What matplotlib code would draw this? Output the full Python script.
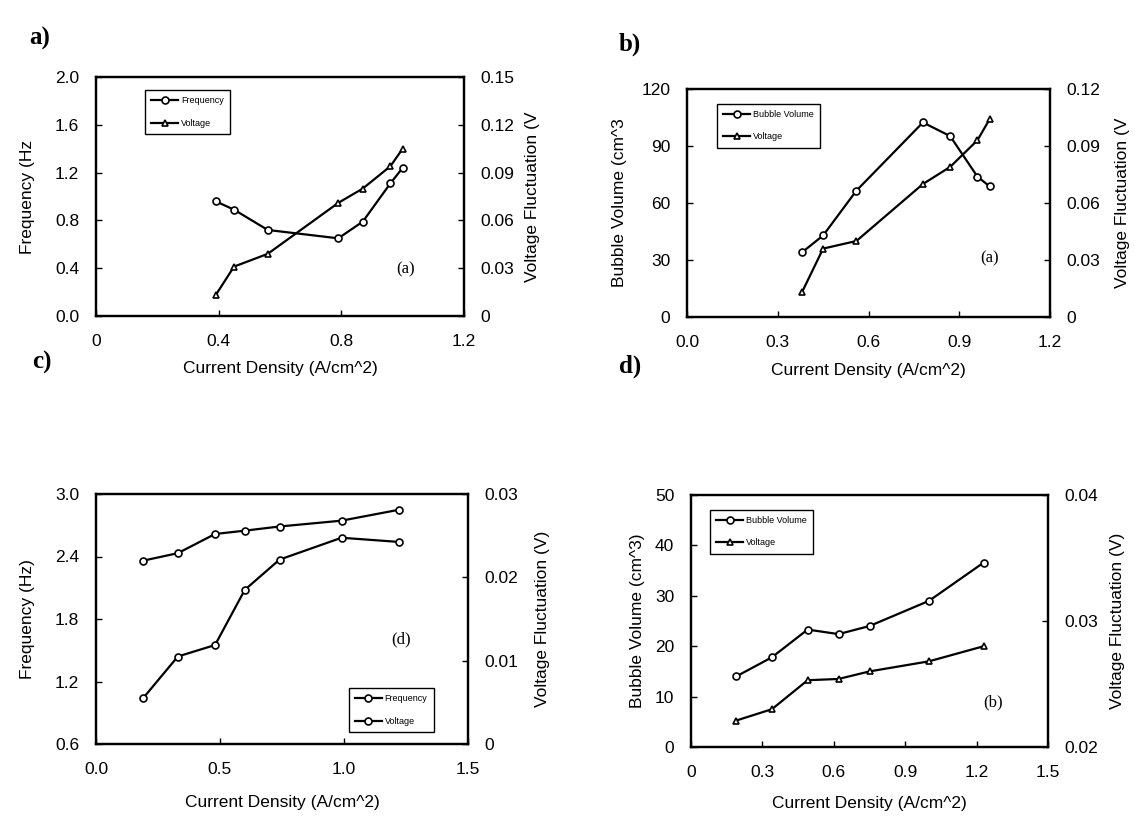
import matplotlib
matplotlib.use('Agg')
import matplotlib.pyplot as plt

plt.rcParams['font.family'] = 'Liberation Sans'

# panel a) frequency / voltage vs current density
cd_a = [0.39, 0.45, 0.56, 0.79, 0.87, 0.96, 1.00]
freq_a = [0.96, 0.89, 0.72, 0.65, 0.79, 1.11, 1.24]
volt_a = [0.013, 0.031, 0.039, 0.071, 0.080, 0.094, 0.105]

# panel b) bubble volume / voltage
cd_b = [0.38, 0.45, 0.56, 0.78, 0.87, 0.96, 1.00]
bub_b = [34.0, 42.9, 66.5, 102.4, 95.2, 73.9, 68.8]
volt_b = [0.013, 0.036, 0.040, 0.070, 0.079, 0.093, 0.104]

# panel c)
cd_c = [0.19, 0.33, 0.48, 0.60, 0.74, 0.99, 1.22]
freq_c = [1.04, 1.44, 1.55, 2.08, 2.37, 2.58, 2.54]
volt_c = [0.0220, 0.0229, 0.0252, 0.0256, 0.0261, 0.0268, 0.0281]

# panel d)
cd_d = [0.19, 0.34, 0.49, 0.62, 0.75, 1.00, 1.23]
bub_d = [14.0, 17.8, 23.3, 22.4, 24.0, 29.0, 36.6]
volt_d = [0.0221, 0.0230, 0.0253, 0.0254, 0.0260, 0.0268, 0.0280]

W, H = 1135, 817
fig = plt.figure(figsize=(W / 100, H / 100), dpi=100)


def make_axes(box):
    x0, y0, x1, y1 = box
    ax = fig.add_axes([x0 / W, (H - y1) / H, (x1 - x0) / W, (y1 - y0) / H])
    ax2 = ax.twinx()
    for a in (ax, ax2):
        for s in a.spines.values():
            s.set_linewidth(1.6)
        a.tick_params(direction='in', length=4, width=1, labelsize=12.5)
    ax.tick_params(axis='x', pad=13)
    ax.tick_params(axis='y', pad=12)
    ax2.tick_params(axis='y', pad=12)
    return ax, ax2


line_kw = dict(color='black', lw=1.6, ms=5, mfc='white', mec='black', mew=1.2)
leg_kw = dict(fontsize=6.5, frameon=True, fancybox=False, edgecolor='black',
              handlelength=3, borderpad=0.7, labelspacing=1.5, framealpha=1,
              handletextpad=0.3)

# ---- a)
ax, ax2 = make_axes((96, 77, 464, 316))
l1, = ax.plot(cd_a, freq_a, marker='o', label='Frequency', **line_kw)
l2, = ax2.plot(cd_a, volt_a, marker='^', label='Voltage', **line_kw)
ax.set_xlim(0, 1.2)
ax.set_xticks([0, 0.4, 0.8, 1.2], ['0', '0.4', '0.8', '1.2'])
ax.set_ylim(0, 2.0)
ax.set_yticks([0, 0.4, 0.8, 1.2, 1.6, 2.0], ['0.0', '0.4', '0.8', '1.2', '1.6', '2.0'])
ax2.set_ylim(0, 0.15)
ax2.set_yticks([0, 0.03, 0.06, 0.09, 0.12, 0.15], ['0', '0.03', '0.06', '0.09', '0.12', '0.15'])
ax.set_xlabel('Current Density (A/cm^2)', fontsize=12.5)
ax.set_ylabel('Frequency (Hz', fontsize=12.5)
ax2.set_ylabel('Voltage Fluctuation (V', fontsize=12.5)
ax.xaxis.set_label_coords(0.5, -0.19)
ax.yaxis.set_label_coords(-0.165, 0.5)
ax2.yaxis.set_label_coords(1.165, 0.5)
ax.legend([l1, l2], ['Frequency', 'Voltage'], loc='upper left',
          bbox_to_anchor=(0.12, 0.965), **leg_kw)
ax.text(1.01, 0.39, '(a)', fontsize=12, family='Liberation Serif', ha='center', va='center')
fig.text(40 / W, 1 - 38 / H, 'a)', fontsize=18, fontweight='bold',
         family='Liberation Serif', ha='center', va='center')

# ---- b)
ax, ax2 = make_axes((687, 89, 1050, 317))
l1, = ax.plot(cd_b, bub_b, marker='o', label='Bubble Volume', **line_kw)
l2, = ax2.plot(cd_b, volt_b, marker='^', label='Voltage', **line_kw)
ax.set_xlim(0, 1.2)
ax.set_xticks([0, 0.3, 0.6, 0.9, 1.2], ['0.0', '0.3', '0.6', '0.9', '1.2'])
ax.set_ylim(0, 120)
ax.set_yticks([0, 30, 60, 90, 120])
ax2.set_ylim(0, 0.12)
ax2.set_yticks([0, 0.03, 0.06, 0.09, 0.12], ['0', '0.03', '0.06', '0.09', '0.12'])
ax.set_xlabel('Current Density (A/cm^2)', fontsize=12.5)
ax.set_ylabel('Bubble Volume (cm^3', fontsize=12.5)
ax2.set_ylabel('Voltage Fluctuation (V', fontsize=12.5)
ax.xaxis.set_label_coords(0.5, -0.2)
ax.yaxis.set_label_coords(-0.165, 0.5)
ax2.yaxis.set_label_coords(1.18, 0.5)
ax.legend([l1, l2], ['Bubble Volume', 'Voltage'], loc='upper left',
          bbox_to_anchor=(0.07, 0.956), **leg_kw)
ax.text(1.0, 31, '(a)', fontsize=12, family='Liberation Serif', ha='center', va='center')
fig.text(630 / W, 1 - 44 / H, 'b)', fontsize=18, fontweight='bold',
         family='Liberation Serif', ha='center', va='center')

# ---- c)
ax, ax2 = make_axes((96, 494, 468, 744))
l1, = ax.plot(cd_c, freq_c, marker='o', label='Frequency', **line_kw)
l2, = ax2.plot(cd_c, volt_c, marker='o', label='Voltage', **line_kw)
ax.set_xlim(0, 1.5)
ax.set_xticks([0, 0.5, 1.0, 1.5], ['0.0', '0.5', '1.0', '1.5'])
ax.set_ylim(0.6, 3.0)
ax.set_yticks([0.6, 1.2, 1.8, 2.4, 3.0], ['0.6', '1.2', '1.8', '2.4', '3.0'])
ax2.set_ylim(0, 0.03)
ax2.set_yticks([0, 0.01, 0.02, 0.03], ['0', '0.01', '0.02', '0.03'])
ax.set_xlabel('Current Density (A/cm^2)', fontsize=12.5)
ax.set_ylabel('Frequency (Hz)', fontsize=12.5)
ax2.set_ylabel('Voltage Fluctuation (V)', fontsize=12.5)
ax.xaxis.set_label_coords(0.5, -0.205)
ax.yaxis.set_label_coords(-0.165, 0.5)
ax2.yaxis.set_label_coords(1.18, 0.5)
ax.legend([l1, l2], ['Frequency', 'Voltage'], loc='lower right',
          bbox_to_anchor=(0.92, 0.03), **leg_kw)
ax.text(1.23, 1.60, '(d)', fontsize=12, family='Liberation Serif', ha='center', va='center')
fig.text(42 / W, 1 - 362 / H, 'c)', fontsize=18, fontweight='bold',
         family='Liberation Serif', ha='center', va='center')

# ---- d)
ax, ax2 = make_axes((691, 495, 1048, 747))
l1, = ax.plot(cd_d, bub_d, marker='o', label='Bubble Volume', **line_kw)
l2, = ax2.plot(cd_d, volt_d, marker='^', label='Voltage', **line_kw)
ax.set_xlim(0, 1.5)
ax.set_xticks([0, 0.3, 0.6, 0.9, 1.2, 1.5], ['0', '0.3', '0.6', '0.9', '1.2', '1.5'])
ax.set_ylim(0, 50)
ax.set_yticks([0, 10, 20, 30, 40, 50])
ax2.set_ylim(0.02, 0.04)
ax2.set_yticks([0.02, 0.03, 0.04], ['0.02', '0.03', '0.04'])
ax.set_xlabel('Current Density (A/cm^2)', fontsize=12.5)
ax.set_ylabel('Bubble Volume (cm^3)', fontsize=12.5)
ax2.set_ylabel('Voltage Fluctuation (V)', fontsize=12.5)
ax.xaxis.set_label_coords(0.5, -0.195)
ax.yaxis.set_label_coords(-0.13, 0.5)
ax2.yaxis.set_label_coords(1.175, 0.5)
ax.legend([l1, l2], ['Bubble Volume', 'Voltage'], loc='upper left',
          bbox_to_anchor=(0.04, 0.96), **leg_kw)
ax.text(1.27, 8.9, '(b)', fontsize=12, family='Liberation Serif', ha='center', va='center')
fig.text(630 / W, 1 - 366 / H, 'd)', fontsize=18, fontweight='bold',
         family='Liberation Serif', ha='center', va='center')

fig.savefig('out.png', dpi=100)
